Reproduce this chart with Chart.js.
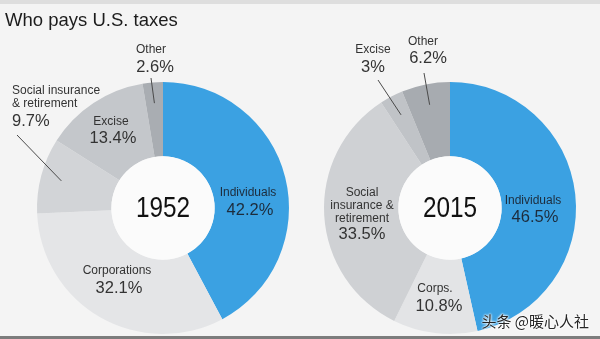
<!DOCTYPE html>
<html>
<head>
<meta charset="utf-8">
<script src="https://cdn.jsdelivr.net/npm/chart.js@4/dist/chart.umd.min.js"></script>
<style>
  html, body { margin: 0; padding: 0; }
  body { width: 600px; height: 339px; background: #f4f4f4; position: relative; overflow: hidden; font-family: "Liberation Sans", Arial, sans-serif; }
  #topbar { position: absolute; left: 0; top: 0; width: 600px; height: 4px; background: #dedede; }
  #title { position: absolute; left: 5px; top: 9px; font-size: 18.5px; color: #1c1c1c; white-space: nowrap; z-index: 2; }
  canvas { position: absolute; left: 0; top: 0; }
  #bottomline { position: absolute; left: 0; top: 336px; width: 600px; height: 3px; background: #7c7c7c; z-index: 2; }
  #mark { position: absolute; right: 11px; top: 311px; font-family: "Noto Sans CJK SC", sans-serif; font-size: 15px; color: #262626; line-height: 20px; text-shadow: 0 0 2px #fff, 0 0 2px #fff, 0 0 3px #fff; white-space: nowrap; z-index: 3; }
</style>
</head>
<body>
<div id="topbar"></div>
<div id="title">Who pays U.S. taxes</div>
<canvas id="c1952" width="600" height="339"></canvas>
<canvas id="c2015" width="600" height="339"></canvas>
<div id="bottomline"></div>
<div id="mark">头条 @暖心人社</div>
<script>
// ---- data ----
const categories = ["Individuals", "Corporations", "Social insurance & retirement", "Excise", "Other"];
const values1952 = [42.2, 32.1, 9.7, 13.4, 2.6];
const values2015 = [46.5, 10.8, 33.5, 3, 6.2];
const years = ["1952", "2015"];
const labels1952 = [["Individuals"], ["Corporations"], ["Social insurance", "& retirement"], ["Excise"], ["Other"]];
const labels2015 = [["Individuals"], ["Corps."], ["Social", "insurance &", "retirement"], ["Excise"], ["Other"]];

// ---- styles / layout (not data) ----
const colors1952 = ["#3ba1e2", "#e4e5e7", "#d2d4d7", "#c4c7cb", "#a9adb2"];
const colors2015 = ["#3ba1e2", "#e3e4e6", "#cfd1d4", "#c0c3c7", "#a7abb0"];
const NAME_FONT = '12px "Liberation Sans", Arial, sans-serif';
const PCT_FONT = '16.5px "Liberation Sans", Arial, sans-serif';
const pad1952 = { left: 37, right: 311, top: 82, bottom: 5 };
const pad2015 = { left: 324, right: 24, top: 82, bottom: 5 };

// label placement relative to donut centre
const layout1952 = [
  { align: "center", dx: 85, dys: [-15], pdx: 87, pdy: 2, color: "#1d2c3c" },
  { align: "center", dx: -46, dys: [63], pdx: -44, pdy: 80, color: "#333" },
  { align: "left", dx: -151, dys: [-117, -104], pdx: -151, pdy: -87, color: "#333", leader: [-146, -73] },
  { align: "center", dx: -52, dys: [-86], pdx: -50, pdy: -70, color: "#333" },
  { align: "center", dx: -12, dys: [-158], pdx: -8, pdy: -141, color: "#333", leader: [-12, -130] }
];
const layout2015 = [
  { align: "center", dx: 83, dys: [-7], pdx: 85, pdy: 9, color: "#1d2c3c" },
  { align: "center", dx: -15, dys: [81], pdx: -11, pdy: 98, color: "#333" },
  { align: "center", dx: -88, dys: [-15, -2, 11], pdx: -88, pdy: 26, color: "#333" },
  { align: "center", dx: -77, dys: [-158], pdx: -77, pdy: -141, color: "#333", leader: [-72, -128] },
  { align: "center", dx: -27, dys: [-166], pdx: -22, pdy: -150, color: "#333", leader: [-26, -135] }
];

const labelPlugin = {
  id: "donutLabels",
  afterDatasetsDraw(chart, args, opts) {
    const ctx = chart.ctx;
    const meta = chart.getDatasetMeta(0);
    const arcs = meta.data;
    if (!arcs.length) return;
    const cx = arcs[0].x, cy = arcs[0].y;
    const inner = arcs[0].innerRadius, outer = arcs[0].outerRadius;
    const vals = chart.data.datasets[0].data;
    // hole
    ctx.save();
    ctx.beginPath();
    ctx.arc(cx, cy, inner, 0, Math.PI * 2);
    ctx.fillStyle = "#fbfbfb";
    ctx.fill();
    // year
    ctx.fillStyle = "#111";
    ctx.textAlign = "center";
    ctx.textBaseline = "middle";
    ctx.translate(cx, cy + 1);
    ctx.scale(0.84, 1);
    ctx.font = '29px "Liberation Sans", Arial, sans-serif';
    ctx.fillText(opts.year, 0, 0);
    ctx.restore();

    ctx.save();
    ctx.textBaseline = "middle";
    arcs.forEach((arc, i) => {
      const L = opts.layout[i];
      const names = opts.names[i];
      ctx.fillStyle = L.color;
      ctx.textAlign = L.align;
      ctx.font = NAME_FONT;
      names.forEach((t, k) => ctx.fillText(t, cx + L.dx, cy + L.dys[k]));
      ctx.font = PCT_FONT;
      ctx.fillText(vals[i] + "%", cx + L.pdx, cy + L.pdy);
      if (L.leader) {
        const mid = (arc.startAngle + arc.endAngle) / 2;
        const r = outer * 0.835;
        ctx.beginPath();
        ctx.moveTo(cx + L.leader[0], cy + L.leader[1]);
        ctx.lineTo(cx + Math.cos(mid) * r, cy + Math.sin(mid) * r);
        ctx.strokeStyle = "#4a4a4a";
        ctx.lineWidth = 1;
        ctx.stroke();
      }
    });
    ctx.restore();
  }
};

function makeChart(id, values, colors, year, names, layout, pad) {
  return new Chart(document.getElementById(id), {
    type: "doughnut",
    data: {
      labels: categories,
      datasets: [{ data: values, backgroundColor: colors, borderWidth: 0, hoverOffset: 0 }]
    },
    options: {
      responsive: false,
      animation: false,
      cutout: "41%",
      rotation: 0,
      layout: { padding: pad },
      events: [],
      plugins: {
        legend: { display: false },
        tooltip: { enabled: false },
        donutLabels: { year: year, names: names, layout: layout }
      }
    },
    plugins: [labelPlugin]
  });
}

makeChart("c1952", values1952, colors1952, years[0], labels1952, layout1952, pad1952);
makeChart("c2015", values2015, colors2015, years[1], labels2015, layout2015, pad2015);
</script>
</body>
</html>
